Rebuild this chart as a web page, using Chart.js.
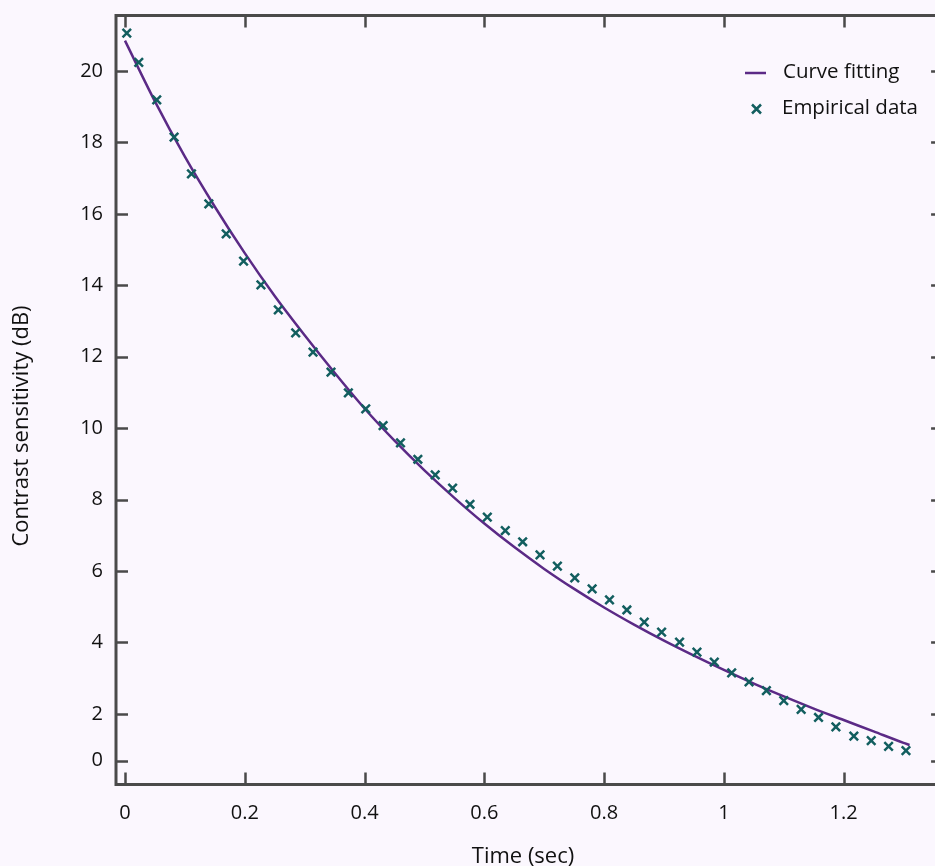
<!DOCTYPE html>
<html>
<head>
<meta charset="utf-8">
<script src="https://cdn.jsdelivr.net/npm/chart.js@4"></script>
<style>
  html, body { margin: 0; padding: 0; background: #fbf7fe; }
  canvas { display: block; }
</style>
</head>
<body>
<canvas id="grafico" width="935" height="866"></canvas>
<script>
// dados empiricos (tempo em s, sensibilidade em dB)
const tempoDados = [0.003, 0.023, 0.053, 0.082, 0.111, 0.140, 0.169, 0.198, 0.227, 0.256,
    0.285, 0.314, 0.344, 0.373, 0.402, 0.431, 0.460, 0.489, 0.518, 0.547,
    0.576, 0.605, 0.635, 0.664, 0.693, 0.722, 0.751, 0.780, 0.809, 0.838,
    0.867, 0.896, 0.926, 0.955, 0.984, 1.013, 1.042, 1.071, 1.100, 1.129,
    1.158, 1.187, 1.217, 1.246, 1.275, 1.304];
const sensibilidadeDados = [21.06, 20.24, 19.19, 18.15, 17.12, 16.28, 15.44, 14.68, 14.01, 13.31,
    12.67, 12.13, 11.57, 10.99, 10.54, 10.07, 9.59, 9.13, 8.69, 8.32,
    7.87, 7.51, 7.13, 6.82, 6.45, 6.14, 5.81, 5.50, 5.19, 4.91,
    4.57, 4.29, 4.01, 3.73, 3.45, 3.15, 2.90, 2.65, 2.37, 2.13,
    1.90, 1.64, 1.38, 1.25, 1.09, 0.97];

// curva ajustada
const tempoCurva = [0, 0.05, 0.1, 0.15, 0.2, 0.25, 0.3, 0.35, 0.4, 0.45,
    0.5, 0.55, 0.6, 0.65, 0.7, 0.75, 0.8, 0.85, 0.9, 0.95,
    1.0, 1.05, 1.1, 1.15, 1.2, 1.25, 1.3, 1.31];
const sensibilidadeCurva = [20.85, 19.15, 17.6, 16.2, 14.9, 13.7, 12.6, 11.55, 10.55, 9.65,
    8.82, 8.05, 7.33, 6.67, 6.06, 5.5, 4.98, 4.5, 4.05, 3.63,
    3.23, 2.85, 2.49, 2.15, 1.83, 1.51, 1.19, 1.13];

const xTicks = [0, 0.2, 0.4, 0.6, 0.8, 1, 1.2];
const xTickLabels = ['0', '0.2', '0.4', '0.6', '0.8', '1', '1.2'];
const yTicks = [0.69, 2, 4, 6, 8, 10, 12, 14, 16, 18, 20];
const yTickLabels = ['0', '2', '4', '6', '8', '10', '12', '14', '16', '18', '20'];
const xBorda = 1.366; // borda direita da moldura (fica fora do canvas)

const corCurva = '#5b2a86';
const corPontos = '#125e5f';
const corEixo = '#4a4a4a';
const corTexto = '#111111';
const fonte = '"Open Sans", "Noto Sans", sans-serif';

// moldura, ticks internos, titulos e legenda
const moldura = {
    id: 'moldura',
    afterDraw(chart) {
        const ctx = chart.ctx;
        const area = chart.chartArea;
        const sx = chart.scales.x;
        const sy = chart.scales.y;
        const direita = sx.getPixelForValue(xBorda);
        const tam = 12;

        ctx.save();
        ctx.strokeStyle = corEixo;
        ctx.lineWidth = 2.5;
        ctx.beginPath();
        xTicks.forEach(v => {
            const px = Math.round(sx.getPixelForValue(v)) + 0.5;
            ctx.moveTo(px, area.bottom); ctx.lineTo(px, area.bottom - tam);
            ctx.moveTo(px, area.top); ctx.lineTo(px, area.top + tam);
        });
        yTicks.forEach(v => {
            const py = Math.round(sy.getPixelForValue(v)) + 0.5;
            ctx.moveTo(area.left, py); ctx.lineTo(area.left + tam, py);
            ctx.moveTo(direita, py); ctx.lineTo(direita - tam, py);
        });
        ctx.stroke();

        ctx.lineWidth = 3;
        ctx.strokeRect(area.left, area.top, direita - area.left, area.bottom - area.top);

        // titulos dos eixos
        ctx.fillStyle = corTexto;
        ctx.font = '22px ' + fonte;
        ctx.textAlign = 'center';
        ctx.textBaseline = 'middle';
        ctx.fillText('Time (sec)', 523, 857);
        ctx.save();
        ctx.translate(22, 426);
        ctx.rotate(-Math.PI / 2);
        ctx.fillText('Contrast sensitivity (dB)', 0, 0);
        ctx.restore();

        // legenda
        ctx.textAlign = 'left';
        ctx.font = '20.5px ' + fonte;
        ctx.strokeStyle = corCurva;
        ctx.lineWidth = 2.5;
        ctx.beginPath();
        ctx.moveTo(745, 73); ctx.lineTo(766, 73);
        ctx.stroke();
        ctx.fillText('Curve fitting', 783, 72.5);

        ctx.strokeStyle = corPontos;
        ctx.beginPath();
        ctx.moveTo(752, 104.5); ctx.lineTo(761, 113.5);
        ctx.moveTo(761, 104.5); ctx.lineTo(752, 113.5);
        ctx.stroke();
        ctx.fillText('Empirical data', 782, 108.5);
        ctx.restore();
    }
};

new Chart(document.getElementById('grafico'), {
    type: 'scatter',
    data: {
        datasets: [
            {
                label: 'Empirical data',
                data: tempoDados.map((t, i) => ({ x: t, y: sensibilidadeDados[i] })),
                pointStyle: 'crossRot',
                pointRadius: 6,
                pointBorderWidth: 2.5,
                borderColor: corPontos,
                backgroundColor: corPontos,
                showLine: false,
                order: 0
            },
            {
                label: 'Curve fitting',
                data: tempoCurva.map((t, i) => ({ x: t, y: sensibilidadeCurva[i] })),
                showLine: true,
                borderColor: corCurva,
                borderWidth: 2.5,
                pointRadius: 0,
                cubicInterpolationMode: 'monotone',
                order: 1
            }
        ]
    },
    options: {
        responsive: false,
        animation: false,
        devicePixelRatio: 1,
        layout: { autoPadding: false, padding: { top: 15.5, right: 0, left: 0, bottom: 0 } },
        plugins: {
            legend: { display: false },
            tooltip: { enabled: false }
        },
        scales: {
            x: {
                type: 'linear',
                min: -0.015,
                max: 1.3525,
                afterFit: s => { s.height = 81.5; s.paddingLeft = 0; s.paddingRight = 0; },
                afterBuildTicks: s => { s.ticks = xTicks.map(v => ({ value: v })); },
                grid: { display: false, drawTicks: false },
                border: { display: false },
                ticks: {
                    autoSkip: false,
                    maxRotation: 0,
                    padding: 16.5,
                    color: corTexto,
                    font: { family: fonte, size: 20 },
                    callback: (v, i) => xTickLabels[i]
                }
            },
            y: {
                type: 'linear',
                min: 0.024,
                max: 21.554,
                afterFit: s => { s.width = 116; s.paddingTop = 0; s.paddingBottom = 0; },
                afterBuildTicks: s => { s.ticks = yTicks.map(v => ({ value: v })); },
                grid: { display: false, drawTicks: false },
                border: { display: false },
                ticks: {
                    autoSkip: false,
                    padding: 13,
                    color: corTexto,
                    font: { family: fonte, size: 20 },
                    callback: (v, i) => yTickLabels[i]
                }
            }
        }
    },
    plugins: [moldura]
});
</script>
</body>
</html>
